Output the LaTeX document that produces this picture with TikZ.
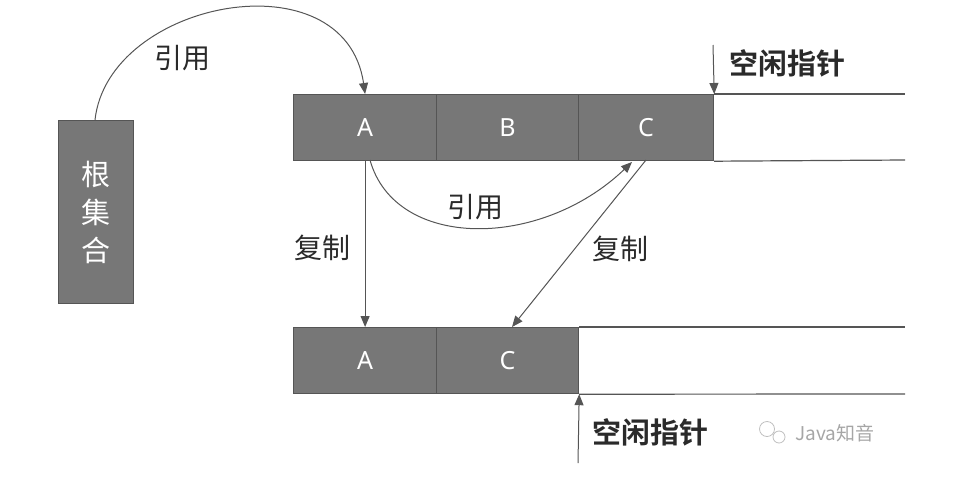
\documentclass[tikz,border=0pt]{standalone}
\usepackage{fontspec}
\setmainfont{Noto Sans}
\newfontfamily\cjk{Noto Sans CJK SC}
\newfontfamily\cjkb{Noto Sans CJK SC Bold}
\usetikzlibrary{arrows.meta}
\definecolor{cellgray}{HTML}{777777}
\definecolor{linegray}{HTML}{555555}
\definecolor{txt}{HTML}{2A2A2A}
\tikzset{
  cell/.style={draw=linegray, line width=1.2pt, fill=cellgray, minimum height=66pt, inner sep=0pt, text=white, font=\fontsize{25}{27}\selectfont},
  conn/.style={draw=linegray, line width=1pt, -{Triangle[length=11pt,width=9pt]}},
  lab/.style={text=txt, font=\cjk\fontsize{28}{30}\selectfont, inner sep=0pt},
  ptr/.style={text=txt, font=\cjkb\fontsize{29}{31}\selectfont, inner sep=0pt},
  rail/.style={draw=linegray, line width=1.2pt}
}
\begin{document}
\begin{tikzpicture}[x=1pt,y=-1pt]
\useasboundingbox (0,0) rectangle (976,501);
% root set
\node[cell, minimum width=75pt, minimum height=183pt, anchor=north west, align=center, font=\cjk\fontsize{29}{38}\selectfont] (root) at (58,120) {根\\集\\合};
% top row
\node[cell, minimum width=143pt, anchor=north west] (tA) at (293,94) {A};
\node[cell, minimum width=142pt, anchor=north west] (tB) at (436,94) {B};
\node[cell, minimum width=135pt, anchor=north west] (tC) at (578,94) {C};
\coordinate (tEnd1) at (905,94);
\coordinate (tEnd2) at (905,160);
\draw[rail] (tC.north east) -- (tEnd1);
\draw[rail] (tC.south east) -- (tEnd2);
% bottom row
\node[cell, minimum width=143pt, anchor=north west] (bA) at (293,327) {A};
\node[cell, minimum width=142pt, anchor=north west] (bC) at (436,327) {C};
\coordinate (bEnd1) at (905,327);
\coordinate (bEnd2) at (905,394);
\draw[rail] (bC.north east) -- (bEnd1);
\draw[rail] (bC.south east) -- (bEnd2);
% root reference
\coordinate (rootTop) at (95,120);
\draw[conn] (rootTop) .. controls (108,0) and (345,-45) .. (tA.north);
\node[lab] (l1) at (182,58) {引用};
% top free pointer
\coordinate (fp1) at (713,45);
\draw[conn] (fp1) -- (tC.north east);
\node[ptr, anchor=west] (fp1l) at (729,63) {空闲指针};
% copy A
\draw[conn] (tA.south) -- (bA.north);
\node[lab] (l2) at (322,248) {复制};
% A references C
\coordinate (aRef) at (370,160);
\coordinate (cIn) at (632,162);
\draw[conn] (aRef) .. controls (395,250) and (540,250) .. (cIn);
\node[lab] (l3) at (475,207) {引用};
% copy C
\coordinate (cOut) at (646,160);
\coordinate (cDst) at (512,327);
\draw[conn] (cOut) -- (cDst);
\node[lab] (l4) at (620,249) {复制};
% bottom free pointer
\coordinate (fp2) at (578,463);
\draw[conn] (fp2) -- (bC.south east);
\node[ptr, anchor=west] (fp2l) at (592,432) {空闲指针};
% watermark
\node[text=gray!70, font=\cjk\fontsize{19}{21}\selectfont, anchor=west, inner sep=0pt] (wm) at (795,433) {Java知音};
\node[draw=gray!50, circle, minimum size=15pt, inner sep=0pt, line width=0.8pt] (wi1) at (767,429) {};
\node[draw=gray!50, circle, minimum size=12pt, inner sep=0pt, line width=0.8pt, fill=white] (wi2) at (779,437) {};
\end{tikzpicture}
\end{document}
